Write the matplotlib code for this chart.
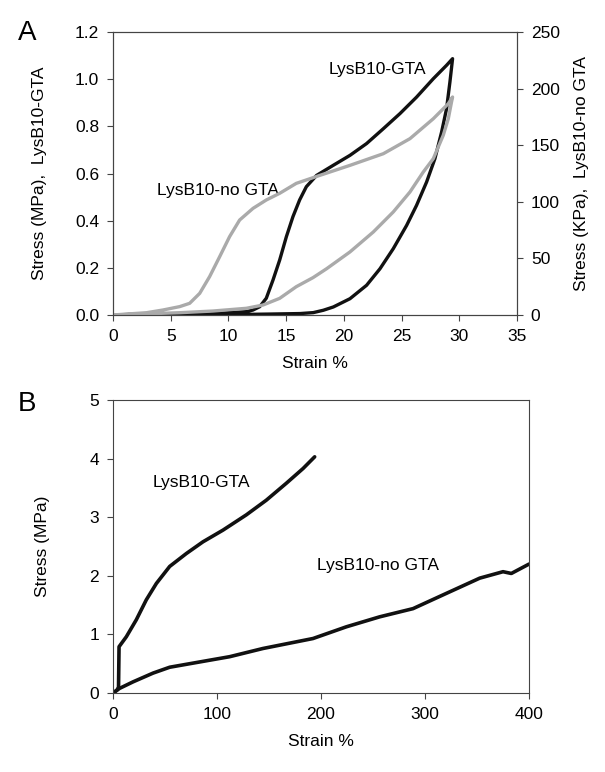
import matplotlib.pyplot as plt
import numpy as np

plt.rcParams['font.family'] = ['Liberation Sans', 'DejaVu Sans']

# Panel A: cyclic loading, LysB10-GTA (MPa, left axis)
gta_load_x = [0, 4.3, 8.0, 11.55, 12.13, 12.71, 13.28, 13.86, 14.44, 15.02, 15.59, 16.17,
              16.75, 17.64, 19.09, 20.53, 21.97, 23.42, 24.86, 26.3, 27.75, 28.9, 29.42]
gta_load_y = [0, 0.0, 0.004, 0.014, 0.021, 0.035, 0.071, 0.148, 0.233, 0.332, 0.417, 0.488,
              0.544, 0.592, 0.635, 0.677, 0.727, 0.790, 0.854, 0.924, 1.002, 1.059, 1.087]
gta_unload_x = [29.19, 28.9, 28.47, 27.89, 27.17, 26.3, 25.44, 24.28, 23.13, 21.97, 20.53,
                19.09, 18.22, 17.35, 16.2, 13.7, 8.0, 4.3]
gta_unload_y = [0.988, 0.875, 0.776, 0.663, 0.564, 0.465, 0.380, 0.281, 0.196, 0.126, 0.069,
                0.034, 0.02, 0.01, 0.006, 0.004, 0.0, 0.0]

# Panel A: LysB10-no GTA (KPa, right axis)
nogta_load_x = [0, 2.9, 4.33, 5.78, 6.64, 7.51, 8.37, 9.24, 10.1, 10.97, 12.13, 13.28, 14.44,
                15.88, 17.93, 20.53, 23.42, 25.73, 27.75, 29.05, 29.42]
nogta_load_y = [0, 2.0, 4.4, 7.4, 10.3, 19.1, 33.9, 51.5, 69.2, 83.9, 94.2, 101.6, 107.5,
                116.3, 123.4, 132.2, 142.5, 155.8, 173.4, 186.7, 192.6]
nogta_unload_x = [29.33, 29.05, 28.61, 27.75, 26.88, 25.73, 24.28, 22.55, 20.53, 18.51,
                  17.33, 15.88, 14.44, 13.0, 11.55, 8.66, 5.78, 0]
nogta_unload_y = [188.2, 173.4, 158.7, 138.1, 126.3, 108.7, 91.0, 73.3, 55.7, 40.9,
                  33.0, 25.0, 14.7, 8.8, 5.9, 3.5, 2.0, 0]

# Panel B: tensile to failure
b_gta_x = [0, 3.8, 5.3, 5.8, 12.8, 22.4, 32, 41.7, 54.5, 70.5, 86.5, 105.8, 128.2, 147.4,
           166.7, 182.7, 193.9]
b_gta_y = [0, 0.05, 0.1, 0.79, 0.96, 1.25, 1.59, 1.87, 2.16, 2.38, 2.58, 2.78, 3.04, 3.29,
           3.58, 3.83, 4.03]
b_nogta_x = [0, 6.4, 19.2, 38.5, 54.5, 80.1, 112.2, 144.2, 192.3, 224.4, 256.4, 288.5,
             320.5, 352.6, 375, 383, 400]
b_nogta_y = [0, 0.08, 0.19, 0.34, 0.44, 0.52, 0.62, 0.76, 0.93, 1.13, 1.30, 1.44,
             1.70, 1.96, 2.07, 2.04, 2.20]

black = '#111111'
grey = '#aaaaaa'
fs = 12.5

fig = plt.figure(figsize=(6.05, 7.72), dpi=100)

# ---- Panel A ----
ax = fig.add_axes([0.1868, 0.592, 0.6677, 0.3665])
ax2 = ax.twinx()
ax.plot(gta_load_x + gta_unload_x, gta_load_y + gta_unload_y, color=black, lw=2.4,
        solid_joinstyle='round', solid_capstyle='round')
ax2.plot(nogta_load_x + nogta_unload_x, nogta_load_y + nogta_unload_y, color=grey, lw=2.4,
         solid_joinstyle='round', solid_capstyle='round')

ax.set_xlim(0, 35)
ax.set_ylim(0, 1.2)
ax2.set_ylim(0, 250)
ax.set_xticks(np.arange(0, 36, 5))
ax.set_yticks(np.arange(0, 1.21, 0.2))
ax.set_yticklabels([f'{v:.1f}' for v in np.arange(0, 1.21, 0.2)])
ax2.set_yticks(np.arange(0, 251, 50))
ax.set_xlabel('Strain %', fontsize=fs, labelpad=9)
ax.set_ylabel('Stress (MPa),  LysB10-GTA', fontsize=fs, labelpad=20)
ax2.set_ylabel('Stress (KPa),  LysB10-no GTA', fontsize=fs, labelpad=10)
ax.text(22.9, 1.04, 'LysB10-GTA', fontsize=fs, ha='center', va='center')
ax.text(9.1, 0.53, 'LysB10-no GTA', fontsize=fs, ha='center', va='center')
fig.text(0.045, 0.957, 'A', fontsize=20, ha='center', va='center')

for a in (ax, ax2):
    a.tick_params(labelsize=fs, direction='out', length=4, pad=6, color='#444444')
    for s in a.spines.values():
        s.set_color('#444444')

# ---- Panel B ----
bx = fig.add_axes([0.1868, 0.1023, 0.6876, 0.3796])
bx.plot(b_gta_x, b_gta_y, color=black, lw=2.6, solid_joinstyle='round', solid_capstyle='round')
bx.plot(b_nogta_x, b_nogta_y, color=black, lw=2.6, solid_joinstyle='round', solid_capstyle='round')
bx.set_xlim(0, 400)
bx.set_ylim(0, 5)
bx.set_xticks([0, 100, 200, 300, 400])
bx.set_yticks(range(0, 6))
bx.set_xlabel('Strain %', fontsize=fs, labelpad=9)
bx.set_ylabel('Stress (MPa)', fontsize=fs, labelpad=28)
bx.text(84.6, 3.6, 'LysB10-GTA', fontsize=fs, ha='center', va='center')
bx.text(254.8, 2.18, 'LysB10-no GTA', fontsize=fs, ha='center', va='center')
fig.text(0.045, 0.477, 'B', fontsize=20, ha='center', va='center')
bx.tick_params(labelsize=fs, direction='out', length=4, pad=6, color='#444444')
for s in bx.spines.values():
    s.set_color('#444444')

fig.savefig('out.png', dpi=100)
